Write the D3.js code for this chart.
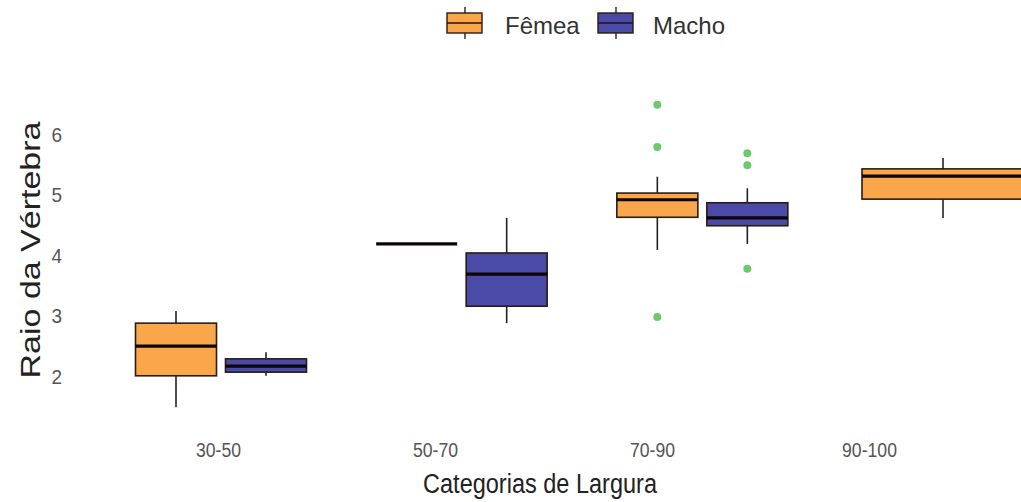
<!DOCTYPE html>
<html lang="pt">
<head>
    <meta charset="UTF-8">
    <title>Raio da Vértebra</title>
    <style>
        body { margin: 0; background: #fff; }
        svg { display: block; font-family: "Liberation Sans", Arial, sans-serif; }
    </style>
</head>
<body>
    <script src="https://d3js.org/d3.v7.min.js"></script>
    <script>
        const categories = ['30-50', '50-70', '70-90', '90-100']
        const groups = ['Fêmea', 'Macho']
        const colors = ['#FAA74C', '#4A4AA8']
        const yTicks = [2, 3, 4, 5, 6]

        // [min, q1, mediana, q3, max] por categoria
        const femeaStats = [
            [1.50, 2.02, 2.51, 2.89, 3.09],
            [4.20, 4.20, 4.20, 4.20, 4.20],
            [4.10, 4.64, 4.93, 5.04, 5.31],
            [4.63, 4.94, 5.32, 5.44, 5.62]
        ]
        const machoStats = [
            [2.02, 2.08, 2.18, 2.30, 2.41],
            [2.89, 3.17, 3.70, 4.05, 4.63],
            [4.20, 4.50, 4.63, 4.88, 5.12],
            null
        ]
        const femeaOutliers = [[], [], [6.50, 5.80, 2.99], []]
        const machoOutliers = [[], [], [5.70, 5.50, 3.79], []]

        const width = 1021
        const height = 502
        const squeeze = 0.84   // o original está achatado na horizontal

        const svg = d3.select('body')
            .append('svg')
            .attr('width', width)
            .attr('height', height)

        const y = d3.scaleLinear().domain([2, 6]).range([377, 135])
        // posição das caixas e dos rótulos do eixo não coincidem no original
        const xBox = d3.scalePoint().domain(categories).range([221, 943])
        const xLab = d3.scalePoint().domain(categories).range([218, 869])

        const boxW = 81
        const dodge = 45

        const rows = []
        categories.forEach((c, i) => {
            const series = [femeaStats[i], machoStats[i]]
            const outl = [femeaOutliers[i], machoOutliers[i]]
            const present = series.map((s, g) => s ? g : -1).filter(g => g >= 0)
            present.forEach(g => {
                const single = present.length === 1
                rows.push({
                    cat: c,
                    g: g,
                    s: series[g],
                    out: outl[g],
                    cx: xBox(c) + (single ? 0 : (g === 0 ? -dodge : dodge)),
                    w: single ? boxW * 2 : boxW
                })
            })
        })

        const box = svg.append('g').selectAll('g')
            .data(rows)
            .enter()
            .append('g')

        // bigodes
        box.append('line')
            .attr('x1', d => d.cx).attr('x2', d => d.cx)
            .attr('y1', d => y(d.s[4])).attr('y2', d => y(d.s[3]))
            .attr('stroke', '#222').attr('stroke-width', 1.6)
        box.append('line')
            .attr('x1', d => d.cx).attr('x2', d => d.cx)
            .attr('y1', d => y(d.s[1])).attr('y2', d => y(d.s[0]))
            .attr('stroke', '#222').attr('stroke-width', 1.6)

        box.filter(d => d.s[3] > d.s[1])
            .append('rect')
            .attr('x', d => d.cx - d.w / 2)
            .attr('width', d => d.w)
            .attr('y', d => y(d.s[3]))
            .attr('height', d => y(d.s[1]) - y(d.s[3]))
            .attr('fill', d => colors[d.g])
            .attr('stroke', '#2a1c12')
            .attr('stroke-width', 1.6)

        box.append('line')
            .attr('x1', d => d.cx - d.w / 2).attr('x2', d => d.cx + d.w / 2)
            .attr('y1', d => y(d.s[2])).attr('y2', d => y(d.s[2]))
            .attr('stroke', '#0d0505').attr('stroke-width', 3.2)

        box.selectAll('circle')
            .data(d => d.out.map(v => ({ v: v, cx: d.cx })))
            .enter()
            .append('circle')
            .attr('cx', d => d.cx)
            .attr('cy', d => y(d.v))
            .attr('r', 4)
            .attr('fill', '#6CC96C')

        // eixos
        const yAxis = svg.append('g')
            .attr('transform', 'translate(64,0)')
            .call(d3.axisLeft(y).tickValues(yTicks).tickFormat(d3.format('d')).tickSize(0).tickPadding(2))
        yAxis.select('.domain').remove()
        yAxis.selectAll('text')
            .attr('fill', '#555')
            .attr('transform', 'scale(0.95,1)')
            .style('font-size', '20px')

        const xAxis = svg.append('g')
            .attr('transform', 'translate(0,438)')
            .call(d3.axisBottom(xLab).tickSize(0).tickPadding(4))
        xAxis.select('.domain').remove()
        xAxis.selectAll('text')
            .attr('fill', '#555')
            .attr('transform', `scale(${squeeze},1)`)
            .style('font-size', '21px')

        svg.append('text')
            .attr('transform', `translate(540,493) scale(${squeeze},1)`)
            .attr('text-anchor', 'middle')
            .attr('fill', '#222')
            .style('font-size', '28px')
            .text('Categorias de Largura')

        svg.append('text')
            .attr('transform', `translate(40,250) scale(${squeeze},1) rotate(-90)`)
            .attr('text-anchor', 'middle')
            .attr('fill', '#222')
            .style('font-size', '34px')
            .text('Raio da Vértebra')

        // legenda
        const legendX = [447, 598]
        const legend = svg.append('g').selectAll('g')
            .data(groups)
            .enter()
            .append('g')
            .attr('transform', (_, i) => `translate(${legendX[i]},0)`)

        legend.append('line')
            .attr('x1', 18).attr('x2', 18)
            .attr('y1', 33).attr('y2', 39)
            .attr('stroke', '#222').attr('stroke-width', 1.4)
        legend.append('line')
            .attr('x1', 18).attr('x2', 18)
            .attr('y1', 7).attr('y2', 13)
            .attr('stroke', '#222').attr('stroke-width', 1.4)
        legend.append('rect')
            .attr('x', 0).attr('y', 13)
            .attr('width', 35).attr('height', 20)
            .attr('fill', (_, i) => colors[i])
            .attr('stroke', '#2a1c12')
            .attr('stroke-width', 1.4)
        legend.append('line')
            .attr('x1', 0).attr('x2', 35)
            .attr('y1', 23).attr('y2', 23)
            .attr('stroke', '#2a1010').attr('stroke-width', 1.4)
        legend.append('text')
            .attr('x', (_, i) => i === 0 ? 58 : 55)
            .attr('y', 34)
            .attr('fill', '#333')
            .style('font-size', '24px')
            .text(d => d)
    </script>
</body>
</html>
